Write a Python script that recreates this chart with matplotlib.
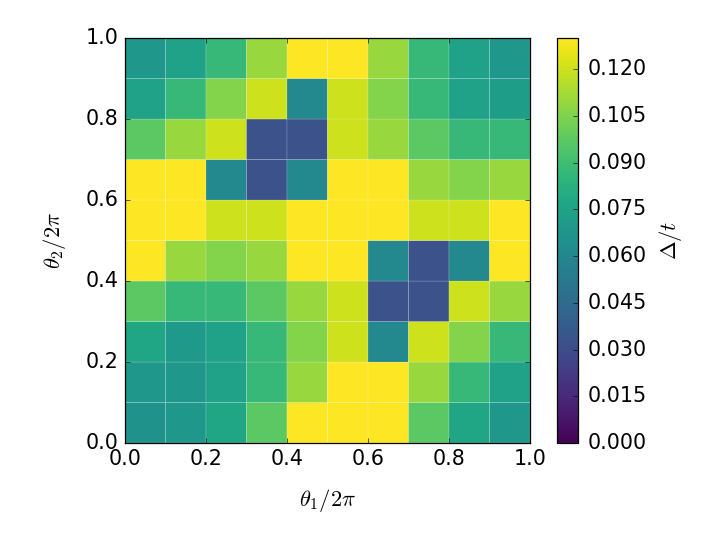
import numpy as np
import matplotlib
matplotlib.use("Agg")
import matplotlib.pyplot as plt

plt.style.use("classic")

# cell values (Delta/t), rows from theta2 = 0 (bottom) up to theta2 = 1 (top)
row0 = [0.066, 0.069, 0.077, 0.097, 0.130, 0.130, 0.130, 0.097, 0.077, 0.069]
row1 = [0.069, 0.069, 0.075, 0.087, 0.110, 0.130, 0.130, 0.110, 0.087, 0.075]
row2 = [0.077, 0.070, 0.075, 0.087, 0.106, 0.120, 0.061, 0.120, 0.106, 0.087]
row3 = [0.097, 0.087, 0.087, 0.097, 0.110, 0.120, 0.033, 0.033, 0.120, 0.110]
row4 = [0.130, 0.110, 0.106, 0.110, 0.130, 0.130, 0.061, 0.033, 0.061, 0.130]
row5 = [0.130, 0.130, 0.120, 0.120, 0.130, 0.130, 0.130, 0.120, 0.120, 0.130]
row6 = [0.130, 0.130, 0.061, 0.033, 0.061, 0.130, 0.130, 0.110, 0.106, 0.110]
row7 = [0.097, 0.110, 0.120, 0.033, 0.033, 0.120, 0.110, 0.097, 0.087, 0.087]
row8 = [0.075, 0.087, 0.106, 0.120, 0.061, 0.120, 0.106, 0.087, 0.075, 0.072]
row9 = [0.069, 0.075, 0.087, 0.110, 0.130, 0.130, 0.110, 0.087, 0.075, 0.069]

gap = np.array([row0, row1, row2, row3, row4, row5, row6, row7, row8, row9])
edges = np.linspace(0, 1, gap.shape[0] + 1)
cticks = np.arange(0, 0.121, 0.015)

fig = plt.figure(figsize=(8, 6), dpi=90)
ax = fig.add_axes([0.1736, 0.1796, 0.5625, 0.75])
cax = fig.add_axes([0.7736, 0.1796, 0.029, 0.75])

mesh = ax.pcolor(edges, edges, gap, cmap="viridis", vmin=0, vmax=0.13,
                 edgecolors=(1, 1, 1, 0.25), linewidth=0.5)
ax.set_xlim(0, 1)
ax.set_ylim(0, 1)
ax.set_xticks(np.arange(0, 1.01, 0.2))
ax.set_yticks(np.arange(0, 1.01, 0.2))
ax.tick_params(labelsize=16.5, pad=5)
ax.set_xlabel(r"$\theta_1/2\pi$", fontsize=18, labelpad=14)
ax.set_ylabel(r"$\theta_2/2\pi$", fontsize=18, labelpad=14)

cb = fig.colorbar(mesh, cax=cax, ticks=cticks)
cb.ax.set_yticklabels(["%.3f" % v for v in cticks])
cb.ax.tick_params(labelsize=16.5, pad=8)
cb.set_label(r"$\Delta/t$", fontsize=18, labelpad=8)

fig.savefig("out.png", dpi=90)
